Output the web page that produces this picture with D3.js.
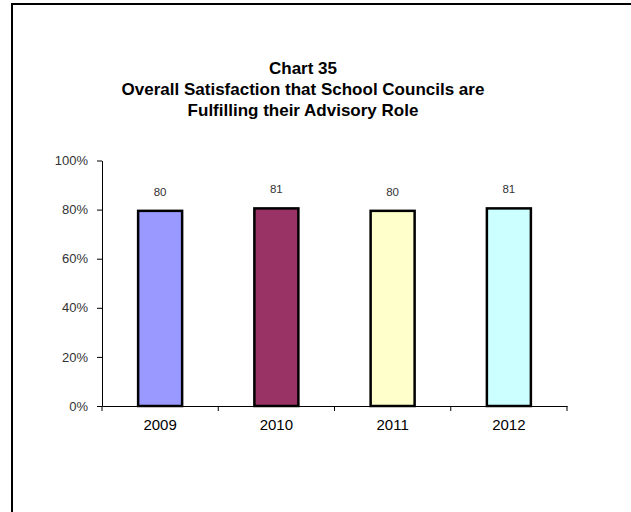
<!DOCTYPE html>
<html>
<head>
<meta charset="utf-8">
<script src="https://cdn.jsdelivr.net/npm/d3@7"></script>
<style>
  body { margin: 0; background: #fff; }
  svg { display: block; font-family: "Liberation Sans", Arial, sans-serif; }
</style>
</head>
<body>
<svg id="chart"></svg>
<script>
// data
const years = ["2009", "2010", "2011", "2012"];
const values = [80, 81, 80, 81];
const barColors = ["#9999FF", "#993366", "#FFFFCC", "#CCFFFF"];
const yTicks = [0, 20, 40, 60, 80, 100];
const titleLines = ["Chart 35", "Overall Satisfaction that School Councils are", "Fulfilling their Advisory Role"];

const width = 631, height = 512;
const margin = { left: 102, right: 64, top: 160.5, bottom: 106 };

const svg = d3.select("#chart")
  .attr("width", width)
  .attr("height", height);

// outer frame (only top and left edges fall inside the picture)
svg.append("rect")
  .attr("x", 12).attr("y", 4)
  .attr("width", 700).attr("height", 600)
  .attr("fill", "none")
  .attr("stroke", "#000")
  .attr("stroke-width", 2);

// title
svg.append("g").attr("class", "title")
  .selectAll("text")
  .data(titleLines)
  .join("text")
  .attr("x", 303)
  .attr("y", (d, i) => 74 + i * 21)
  .attr("text-anchor", "middle")
  .style("font-weight", "bold")
  .style("font-size", "17px")
  .style("fill", "#000")
  .text(d => d);

const x = d3.scaleBand()
  .domain(years)
  .range([margin.left, width - margin.right])
  .padding(0);

const y = d3.scaleLinear()
  .domain([0, 100])
  .range([height - margin.bottom, margin.top]);

// y axis
const yAxisG = svg.append("g")
  .attr("class", "y-axis")
  .attr("transform", `translate(${margin.left},0)`)
  .call(d3.axisLeft(y).tickValues(yTicks).tickFormat(d => d + "%").tickSize(5).tickPadding(9).tickSizeOuter(0));
yAxisG.selectAll("text")
  .style("font-size", "13px")
  .style("fill", "#333")
  .style("font-family", "Liberation Sans, Arial, sans-serif");

// x axis, ticks sit on category boundaries
const xAxisG = svg.append("g")
  .attr("class", "x-axis")
  .attr("transform", `translate(0,${y(0)})`)
  .call(d3.axisBottom(x).tickSize(0).tickPadding(13));
xAxisG.selectAll("text")
  .style("font-size", "15px")
  .style("fill", "#000")
  .style("font-family", "Liberation Sans, Arial, sans-serif");
xAxisG.selectAll(".bound")
  .data(years.map(d => x(d)).concat([x.range()[1]]))
  .join("line")
  .attr("class", "bound")
  .attr("x1", d => d).attr("x2", d => d)
  .attr("y1", 0).attr("y2", 5)
  .attr("stroke", "#000");

svg.selectAll(".domain").attr("stroke", "#000");
svg.selectAll(".tick line").attr("stroke", "#000");

// bars
const barW = x.bandwidth() * 0.4;
svg.append("g").attr("class", "bars")
  .selectAll("rect")
  .data(values)
  .join("rect")
  .attr("x", (d, i) => x(years[i]) + (x.bandwidth() - barW) / 2 + 1.25)
  .attr("y", d => y(d) + 1.25)
  .attr("width", barW - 2.5)
  .attr("height", d => y(0) - y(d) - 1.25)
  .attr("fill", (d, i) => barColors[i])
  .attr("stroke", "#000")
  .attr("stroke-width", 2.5);

// value labels
svg.append("g").attr("class", "labels")
  .selectAll("text")
  .data(values)
  .join("text")
  .attr("x", (d, i) => x(years[i]) + x.bandwidth() / 2)
  .attr("y", d => y(d) - 14)
  .attr("text-anchor", "middle")
  .style("font-size", "11.5px")
  .style("fill", "#333")
  .text(d => d);
</script>
</body>
</html>
